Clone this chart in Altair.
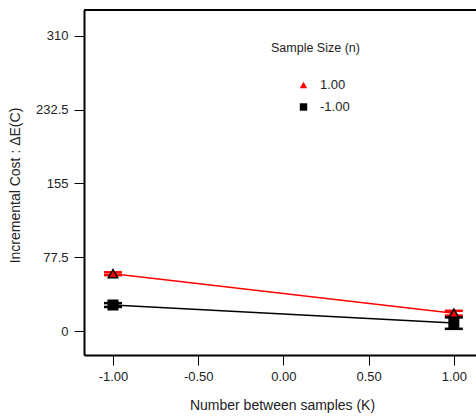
import altair as alt
import pandas as pd

# Data
k_values = [-1.0, 1.0, -1.0, 1.0]
n_labels = ["1.00", "1.00", "-1.00", "-1.00"]
cost = [60.2, 18.7, 27.3, 8.3]
err = [1.5, 2.5, 2.0, 6.0]

y_ticks = [0, 77.5, 155, 232.5, 310]
x_ticks = [-1.0, -0.5, 0.0, 0.5, 1.0]

df = pd.DataFrame({"K": k_values, "n": n_labels, "cost": cost, "err": err})
df["lo"] = df["cost"] - df["err"]
df["hi"] = df["cost"] + df["err"]

FONT = "Liberation Sans"

xscale = alt.Scale(domain=[-1.17, 1.13], nice=False, zero=False)
yscale = alt.Scale(domain=[-25.2, 337.3], nice=False, zero=False)
color_scale = alt.Scale(domain=["1.00", "-1.00"], range=["#ff0000", "#000000"])
shape_scale = alt.Scale(domain=["1.00", "-1.00"], range=["triangle-up", "square"])

x_enc = alt.X("K:Q", scale=xscale,
              axis=alt.Axis(values=x_ticks,
                            labelExpr="datum.value < 0 ? '-' + format(-datum.value, '.2f') : format(datum.value, '.2f')",
                            title="Number between samples (K)",
                            grid=False, domain=True, domainColor="black", domainWidth=2,
                            tickColor="black", tickSize=10, tickWidth=1,
                            labelFont=FONT, labelFontSize=13, labelColor="#222222", labelPadding=5,
                            titleFont=FONT, titleFontSize=14, titleFontWeight="normal",
                            titleColor="#222222", titleX=198, titleY=50, titleAnchor="middle",
                            titleBaseline="middle"))
y_enc = alt.Y("cost:Q", scale=yscale,
              axis=alt.Axis(values=y_ticks,
                            labelExpr="datum.value == 232.5 ? '232.5' : datum.value == 77.5 ? '77.5' : format(datum.value, 'd')",
                            title="Incremental Cost : \u0394E(C)",
                            grid=False, domain=True, domainColor="black", domainWidth=2,
                            tickColor="black", tickSize=10, tickWidth=1,
                            labelFont=FONT, labelFontSize=13, labelColor="#222222", labelPadding=6,
                            titleFont=FONT, titleFontSize=14, titleFontWeight="normal",
                            titleColor="#222222", titleX=-69, titleY=175, titleAngle=-90,
                            titleAlign="center", titleBaseline="middle"))

leg = alt.Legend(title="Sample Size (n)", orient="none", legendX=187, legendY=32,
                 titleFont=FONT, titleFontSize=12.5, titleFontWeight="normal",
                 titleColor="#222222", titlePadding=24,
                 labelFont=FONT, labelFontSize=13, labelColor="#222222",
                 labelOffset=10, symbolOffset=26, symbolSize=55,
                 symbolStrokeWidth=0, rowPadding=8)

color_enc = alt.Color("n:N", scale=color_scale, legend=leg, title="Sample Size (n)")
shape_enc = alt.Shape("n:N", scale=shape_scale, legend=leg, title="Sample Size (n)")

base = alt.Chart(df)

lines = base.mark_line(strokeWidth=1.5).encode(
    x=x_enc, y=y_enc, color=color_enc, detail="n:N",
)
err_rule = base.mark_rule(strokeWidth=2).encode(
    x="K:Q", y="lo:Q", y2="hi:Q", color=color_enc,
)
cap_lo = base.mark_rule(strokeWidth=2.5, xOffset=-9, x2Offset=9).encode(
    x="K:Q", x2="K:Q", y="lo:Q", color=color_enc,
)
cap_hi = base.mark_rule(strokeWidth=2.5, xOffset=-9, x2Offset=9).encode(
    x="K:Q", x2="K:Q", y="hi:Q", color=color_enc,
)
points = base.mark_point(filled=True, size=90, opacity=1, stroke="black", strokeWidth=1.5).encode(
    x="K:Q", y="cost:Q", color=color_enc, shape=shape_enc,
)

# top frame line of the plot box (the reference has no right border in view)
top_frame = alt.Chart(df).mark_rule(color="black", strokeWidth=2).encode(
    x=alt.value(0), x2=alt.value(392), y=alt.value(0)
)

chart = alt.layer(top_frame, lines, err_rule, cap_lo, cap_hi, points).properties(
    width=392, height=345,
    padding={"left": 84, "top": 10, "right": 0, "bottom": 62},
    autosize=alt.AutoSizeParams(type="none"),
    background="white",
).configure_view(stroke=None)

chart.save("out.html", embed_options={"renderer": "svg", "actions": False})
